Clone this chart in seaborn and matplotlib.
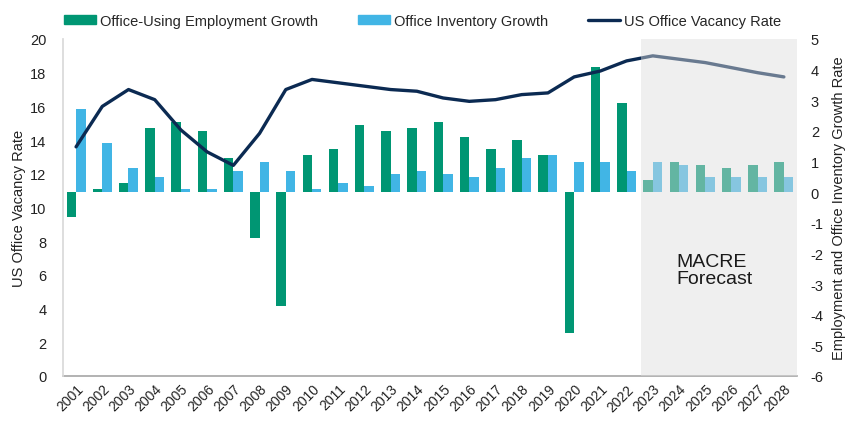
import numpy as np
import pandas as pd
import seaborn as sns
import matplotlib.pyplot as plt
from matplotlib.patches import Patch
from matplotlib.lines import Line2D

# Data
years = [str(y) for y in range(2001, 2029)]
employment_growth = [-0.8, 0.1, 0.3, 2.1, 2.3, 2.0, 1.1, -1.5, -3.7, 1.2,
                     1.4, 2.2, 2.0, 2.1, 2.3, 1.8, 1.4, 1.7, 1.2, -4.6,
                     4.1, 2.9, 0.4, 1.0, 0.9, 0.8, 0.9, 1.0]
inventory_growth = [2.7, 1.6, 0.8, 0.5, 0.1, 0.1, 0.7, 1.0, 0.7, 0.1,
                    0.3, 0.2, 0.6, 0.7, 0.6, 0.5, 0.8, 1.1, 1.2, 1.0,
                    1.0, 0.7, 1.0, 0.9, 0.5, 0.5, 0.5, 0.5]
vacancy_rate = [13.6, 16.0, 17.0, 16.4, 14.6, 13.3, 12.5, 14.4, 17.0, 17.6,
                17.4, 17.2, 17.0, 16.9, 16.5, 16.3, 16.4, 16.7, 16.8, 17.75,
                18.1, 18.7, 19.0, 18.8, 18.6, 18.3, 18.0, 17.75]
forecast_start = "2023"

series_names = ["Office-Using Employment Growth", "Office Inventory Growth"]
line_name = "US Office Vacancy Rate"

GREEN = "#009673"
BLUE = "#41b5e5"
NAVY = "#0b2a52"

# long format for seaborn
df = pd.DataFrame({"Year": years,
                   series_names[0]: employment_growth,
                   series_names[1]: inventory_growth})
df = df.melt(id_vars="Year", var_name="Series", value_name="Growth")

sns.set_theme(style="white")
plt.rcParams["font.family"] = ["Liberation Sans", "DejaVu Sans"]
plt.rcParams["axes.unicode_minus"] = False

fig, ax = plt.subplots(figsize=(8.66, 4.31), dpi=100)
fig.subplots_adjust(left=0.0727, right=0.9203, top=0.9072, bottom=0.1253)

# bars on the growth axis (drawn underneath the line)
sns.barplot(data=df, x="Year", y="Growth", hue="Series", order=years,
            palette=[GREEN, BLUE], width=0.72, gap=0, linewidth=0,
            saturation=1, ax=ax, legend=False)

# vacancy line on a twin axis
ax2 = ax.twinx()
sns.lineplot(x=np.arange(len(years)), y=vacancy_rate, color=NAVY,
             linewidth=2.4, ax=ax2)

# swap sides: growth on the right, vacancy on the left
ax.set_ylim(-6, 5)
ax.set_yticks(range(-6, 6))
ax.yaxis.tick_right()
ax.yaxis.set_label_position("right")
ax.set_ylabel("Employment and Office Inventory Growth Rate", fontsize=10.5,
              color="#222222", labelpad=6)
ax.set_xlabel("")
ax.set_xlim(-0.5, len(years) - 0.5)

ax2.set_ylim(0, 20)
ax2.set_yticks(range(0, 21, 2))
ax2.yaxis.tick_left()
ax2.yaxis.set_label_position("left")
ax2.set_ylabel("US Office Vacancy Rate", fontsize=10.5, color="#222222", labelpad=3)
ax2.set_xlim(-0.5, len(years) - 0.5)

# forecast shading laid over everything
fc = years.index(forecast_start)
ax2.axvspan(fc - 0.45, len(years) - 0.5, color="#dcdcdc", alpha=0.45,
            lw=0, zorder=10)
ax2.text(fc + 0.9, 6.3, "MACRE\nForecast", ha="left", va="center",
         fontsize=14, color="#1a1a1a", zorder=11, linespacing=1.05)

for a in (ax, ax2):
    for s in ("top", "right", "left", "bottom"):
        a.spines[s].set_visible(False)
    a.tick_params(length=0, labelsize=10.5, labelcolor="#222222")

ax.tick_params(axis="y", pad=10)
ax2.tick_params(axis="y", pad=12)

ax.spines["bottom"].set_visible(True)
ax.spines["bottom"].set_color("#a6a6a6")
ax.spines["bottom"].set_linewidth(1.2)
ax2.spines["left"].set_visible(True)
ax2.spines["left"].set_color("#d9d9d9")

ax.set_xticks(range(len(years)))
ax.set_xticklabels(years, rotation=45, ha="right", rotation_mode="anchor",
                   fontsize=10)
ax.tick_params(axis="x", pad=4)

# legend across the top
handles = [Patch(color=GREEN, label=series_names[0]),
           Patch(color=BLUE, label=series_names[1]),
           Line2D([0], [0], color=NAVY, lw=2.4, label=line_name)]
fig.legend(handles=handles, loc="center", bbox_to_anchor=(0.488, 0.95),
           ncol=3, frameon=False, fontsize=10.5, handlelength=2.2,
           handleheight=0.55, handletextpad=0.3, columnspacing=2.7)

plt.savefig("out.png", dpi=100)
